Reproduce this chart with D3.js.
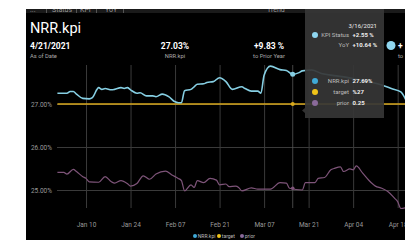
<!DOCTYPE html>
<html>
<head>
<meta charset="utf-8">
<script src="https://cdn.jsdelivr.net/npm/d3@7"></script>
<style>
  body { margin: 0; background: #fff; }
  svg { display: block; font-family: Roboto, "Noto Sans", sans-serif; }
</style>
</head>
<body>
<div id="chart"></div>
<script>
// values
var nrrDates = ["2021-01-01","2021-01-04","2021-01-05","2021-01-06","2021-01-07","2021-01-09","2021-01-11","2021-01-12",
  "2021-01-14","2021-01-15","2021-01-16","2021-01-18","2021-01-19","2021-01-21","2021-01-22","2021-01-23","2021-01-24",
  "2021-01-26","2021-01-27","2021-01-29","2021-01-31","2021-02-01","2021-02-03","2021-02-05","2021-02-07","2021-02-08",
  "2021-02-09","2021-02-10","2021-02-12","2021-02-13","2021-02-14","2021-02-16","2021-02-17","2021-02-19","2021-02-21",
  "2021-02-23","2021-02-25","2021-02-28","2021-03-01","2021-03-03","2021-03-05","2021-03-06","2021-03-07","2021-03-09",
  "2021-03-12","2021-03-14","2021-03-16","2021-03-18","2021-03-19","2021-03-22","2021-03-25","2021-03-29","2021-04-02",
  "2021-04-06","2021-04-10","2021-04-13","2021-04-16","2021-04-19","2021-04-21"];
var nrrValues = [27.25,27.25,27.29,27.29,27.23,27.13,27.12,27.15,
  27.38,27.34,27.36,27.33,27.34,27.38,27.36,27.38,27.33,
  27.25,27.26,27.19,27.19,27.17,27.23,27.17,27.05,27.03,
  27.03,27.31,27.34,27.40,27.46,27.47,27.50,27.52,27.61,
  27.52,27.34,27.40,27.36,27.30,27.30,27.25,27.67,27.88,
  27.80,27.78,27.69,27.73,27.77,27.79,27.71,27.66,27.62,
  27.56,27.50,27.44,27.36,27.28,27.03];

var priorDates = ["2021-01-01","2021-01-03","2021-01-04","2021-01-06","2021-01-07","2021-01-09","2021-01-10","2021-01-11",
  "2021-01-14","2021-01-16","2021-01-18","2021-01-19","2021-01-21","2021-01-23","2021-01-24","2021-01-26","2021-01-28",
  "2021-01-30","2021-02-01","2021-02-04","2021-02-06","2021-02-08","2021-02-09","2021-02-10","2021-02-12","2021-02-13",
  "2021-02-14","2021-02-16","2021-02-18","2021-02-20","2021-02-21","2021-02-23","2021-02-24","2021-02-26","2021-02-27",
  "2021-02-28","2021-03-03","2021-03-05","2021-03-09","2021-03-12","2021-03-14","2021-03-15","2021-03-19","2021-03-20",
  "2021-03-23","2021-03-24","2021-03-26","2021-03-28","2021-03-29","2021-03-31","2021-04-01","2021-04-03","2021-04-04",
  "2021-04-05","2021-04-07","2021-04-09","2021-04-11","2021-04-13","2021-04-15","2021-04-17","2021-04-18","2021-04-19",
  "2021-04-21"];
var priorValues = [25.41,25.41,25.37,25.48,25.43,25.31,25.27,25.19,
  25.18,25.31,25.19,25.16,25.22,25.15,25.09,25.15,25.33,
  25.25,25.37,25.44,25.35,25.27,25.22,24.98,25.12,25.06,
  25.22,25.17,25.27,25.23,25.12,25.14,25.08,25.09,25.06,
  24.98,25.05,25.02,25.02,25.17,25.16,25.04,25.00,25.17,
  25.17,25.27,25.29,25.47,25.50,25.54,25.43,25.49,25.47,
  25.56,25.39,25.22,25.09,25.04,24.96,24.81,24.73,24.57,
  24.60];

var targetValue = 27;
var yTicks = [25, 26, 27];
var xTicks = ["2021-01-10","2021-01-24","2021-02-07","2021-02-21","2021-03-07","2021-03-21","2021-04-04","2021-04-18"];
var legendNames = ["NRR.kpi", "target", "prior"];
var legendColors = ["#3fa9d6", "#f0c419", "#8a6a9a"];

var lineColors = { nrr: "#86cfe3", target: "#d9a91c", prior: "#7e5479" };

var parse = d3.utcParse("%Y-%m-%d");
var nrr = nrrDates.map((d, i) => ({ date: parse(d), v: nrrValues[i] }));
var prior = priorDates.map((d, i) => ({ date: parse(d), v: priorValues[i] }));

var W = 405, H = 240;
var svg = d3.select("#chart").append("svg")
    .attr("width", W)
    .attr("height", H);

// dark panel
svg.append("rect").attr("x", 26).attr("y", 9).attr("width", W - 26).attr("height", H - 9).attr("fill", "#000");

// tab strip, clipped at top
svg.append("clipPath").attr("id", "tabclip")
  .append("rect").attr("x", 26).attr("y", 9).attr("width", W - 26).attr("height", 4);
var tabs = svg.append("g").attr("clip-path", "url(#tabclip)");
tabs.append("rect").attr("x", 26).attr("y", 9).attr("width", W - 26).attr("height", 4).attr("fill", "#1a1a1a");
[["...", 30], ["Status", 52], ["KPI", 80], ["YoY", 105], ["Trend", 267]].forEach(t => {
  tabs.append("text").attr("x", t[1]).attr("y", 11.5).attr("font-size", 7).attr("fill", "#999").text(t[0]);
});
[46.5, 76.5, 96.5, 123.5].forEach(x => {
  tabs.append("line").attr("x1", x).attr("x2", x).attr("y1", 9).attr("y2", 13).attr("stroke", "#555");
});

// header cards
svg.append("text").attr("x", 30).attr("y", 33).attr("font-size", 14.5).attr("fill", "#fff").text("NRR.kpi");
svg.append("text").attr("x", 30).attr("y", 49).attr("font-size", 8.5).attr("font-weight", "bold").attr("fill", "#fff").text("4/21/2021");
svg.append("text").attr("x", 30).attr("y", 58).attr("font-size", 5.8).attr("fill", "#aaa").text("As of Date");
svg.append("text").attr("x", 175).attr("y", 49).attr("text-anchor", "middle").attr("font-size", 8.5).attr("font-weight", "bold").attr("fill", "#fff").text("27.03%");
svg.append("text").attr("x", 175).attr("y", 58).attr("text-anchor", "middle").attr("font-size", 5.8).attr("fill", "#aaa").text("NRR.kpi");
svg.append("text").attr("x", 269).attr("y", 49).attr("text-anchor", "middle").attr("font-size", 8.5).attr("font-weight", "bold").attr("fill", "#fff").text("+9.83 %");
svg.append("text").attr("x", 269).attr("y", 58).attr("text-anchor", "middle").attr("font-size", 5.8).attr("fill", "#aaa").text("to Prior Year");
svg.append("circle").attr("cx", 391).attr("cy", 45.5).attr("r", 4.5).attr("fill", "#8fd6f0");
svg.append("text").attr("x", 398).attr("y", 49).attr("font-size", 8.5).attr("font-weight", "bold").attr("fill", "#fff").text("+");
svg.append("text").attr("x", 398).attr("y", 58).attr("font-size", 5.8).attr("fill", "#aaa").text("to");

// scales
var x = d3.scaleUtc()
    .domain([parse("2021-01-01"), parse("2021-04-21")])
    .range([57.4, 407.2]);
var y = d3.scaleLinear()
    .domain([25, 27])
    .range([190, 104]);

// horizontal grid + y labels
var yAxis = svg.append("g")
    .attr("transform", "translate(57,0)")
    .call(d3.axisLeft(y).tickValues(yTicks).tickSize(-(W - 57)).tickPadding(5)
      .tickFormat(d => d.toFixed(2) + "%"));
yAxis.select(".domain").remove();
yAxis.selectAll("line").attr("stroke", "#3a3a3a");
yAxis.selectAll("text").attr("fill", "#9a9a9a").attr("font-size", 6.5).attr("font-family", "Roboto, sans-serif");

// vertical grid + x labels
var xAxis = svg.append("g")
    .attr("transform", "translate(0,208)")
    .call(d3.axisBottom(x).tickValues(xTicks.map(parse)).tickSize(-143).tickPadding(14)
      .tickFormat(d3.utcFormat("%b %d")));
xAxis.select(".domain").remove();
xAxis.selectAll("line").attr("stroke", "#3a3a3a");
xAxis.selectAll("text").attr("fill", "#9a9a9a").attr("font-size", 6.5).attr("font-family", "Roboto, sans-serif");

var line = d3.line().x(d => x(d.date)).y(d => y(d.v)).curve(d3.curveMonotoneX);

svg.append("path").datum(prior)
    .attr("d", line)
    .attr("fill", "none")
    .attr("stroke", lineColors.prior)
    .attr("stroke-width", 1.2);

svg.append("line")
    .attr("x1", x.range()[0]).attr("x2", x.range()[1])
    .attr("y1", y(targetValue)).attr("y2", y(targetValue))
    .attr("stroke", lineColors.target)
    .attr("stroke-width", 1.5);

svg.append("path").datum(nrr)
    .attr("d", line)
    .attr("fill", "none")
    .attr("stroke", lineColors.nrr)
    .attr("stroke-width", 1.6);

// hover marker at 3/16
var hoverDate = parse("2021-03-16");
var hx = x(hoverDate);
svg.append("line").attr("x1", hx).attr("x2", hx).attr("y1", 65).attr("y2", 208).attr("stroke", "#555").attr("stroke-width", 0.8);
svg.append("circle").attr("cx", hx).attr("cy", y(27.69)).attr("r", 2.5).attr("fill", lineColors.nrr);
svg.append("circle").attr("cx", hx).attr("cy", y(targetValue)).attr("r", 2).attr("fill", lineColors.target);
svg.append("circle").attr("cx", hx).attr("cy", y(25.04)).attr("r", 1.8).attr("fill", lineColors.prior);

// tooltip
var tip = svg.append("g");
tip.append("path")
    .attr("d", "M305,9 H384 V118 H305 V113 L302,110.5 L305,108 Z")
    .attr("fill", "#363636")
    .attr("fill-opacity", 0.92);
tip.append("text").attr("x", 377).attr("y", 28).attr("text-anchor", "end").attr("font-size", 6).attr("fill", "#eee").text("3/16/2021");
var tipRows = [
  { y: 37, dot: "#8fd6f0", label: "KPI Status", value: "+2.55 %" },
  { y: 47, dot: null, label: "YoY", value: "+10.64 %" },
  { y: 83, dot: legendColors[0], label: "NRR.kpi", value: "27.69%" },
  { y: 94, dot: legendColors[1], label: "target", value: "%27" },
  { y: 105, dot: legendColors[2], label: "prior", value: "0.25" }
];
tipRows.forEach(r => {
  if (r.dot) tip.append("circle").attr("cx", 315).attr("cy", r.y - 2).attr("r", 3).attr("fill", r.dot);
  tip.append("text").attr("x", 349).attr("y", r.y).attr("text-anchor", "end").attr("font-size", 6).attr("fill", "#bbb").text(r.label);
  tip.append("text").attr("x", 352.5).attr("y", r.y).attr("font-size", 6).attr("font-weight", "bold").attr("fill", "#eee").text(r.value);
});

// legend
var lx = [195, 219, 242];
legendNames.forEach((n, i) => {
  svg.append("circle").attr("cx", lx[i]).attr("cy", 236).attr("r", 2).attr("fill", legendColors[i]);
  svg.append("text").attr("x", lx[i] + 2.8).attr("y", 238).attr("font-size", 5).attr("fill", "#bbb").text(n);
});
</script>
</body>
</html>
